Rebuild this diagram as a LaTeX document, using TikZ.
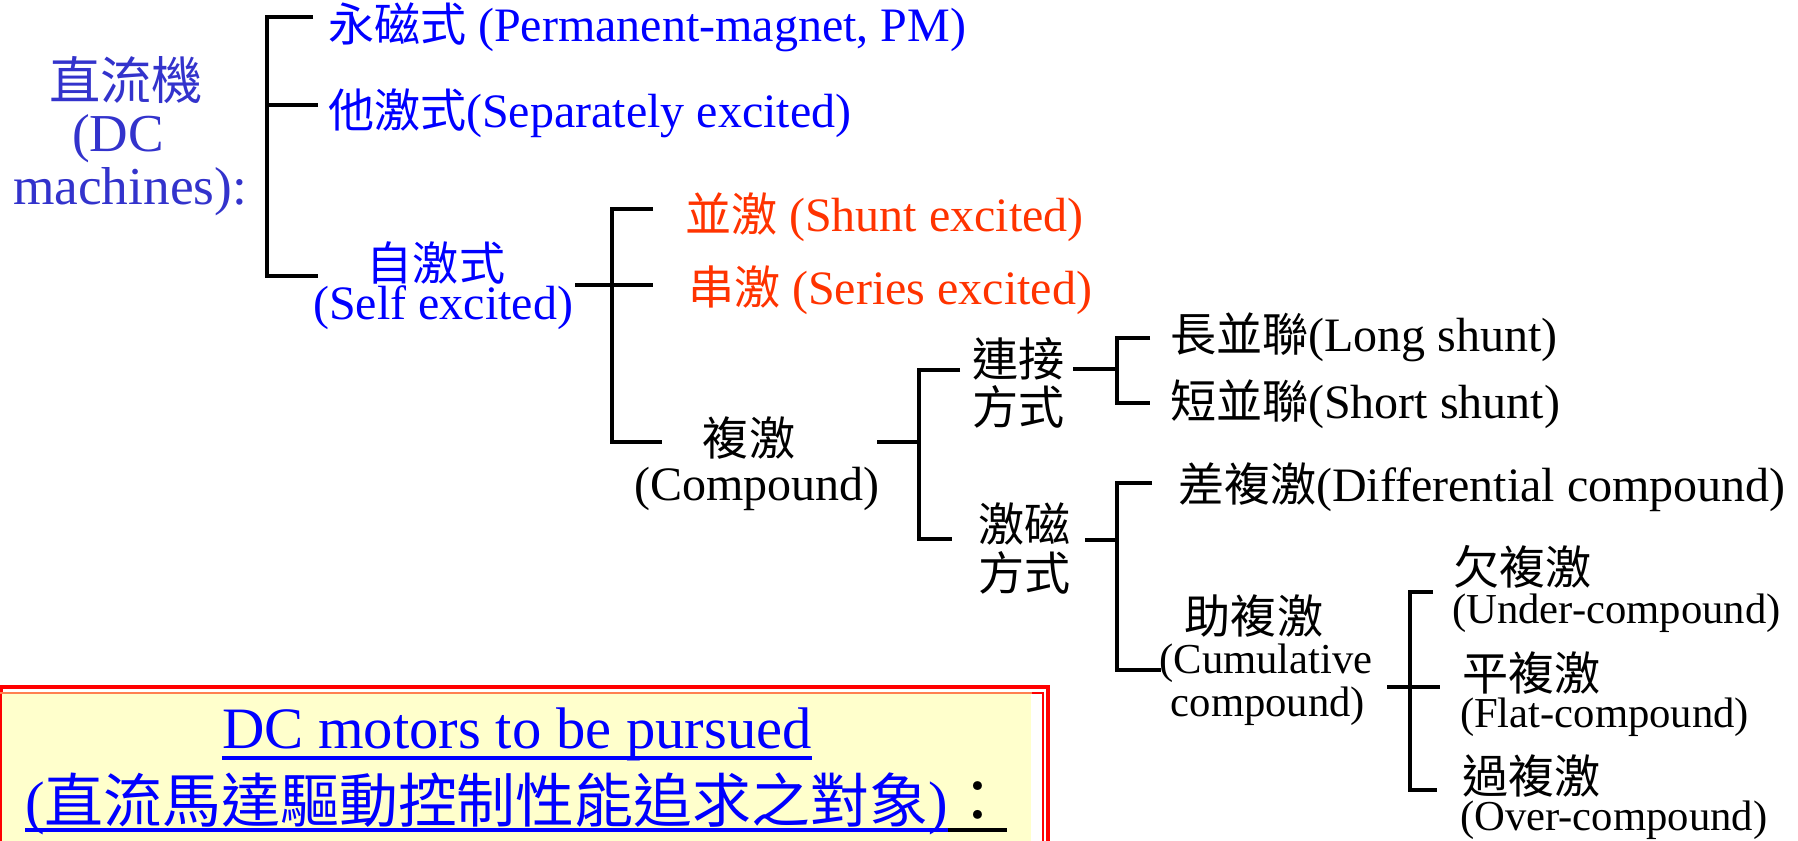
\documentclass[tikz,border=0pt]{standalone}
\usepackage{fontspec}
\setmainfont{Liberation Serif}
\newfontfamily\cjk[Scale=0.96]{Noto Sans CJK TC}
\definecolor{tblue}{RGB}{0,0,255}
\definecolor{lblue}{RGB}{51,51,204}
\definecolor{tred}{RGB}{255,51,0}
\definecolor{bred}{RGB}{255,0,0}
\definecolor{bor}{RGB}{255,128,80}
\definecolor{byel}{RGB}{255,255,204}
\tikzset{
  br/.style={line width=2.3pt, line join=miter},
  tx/.style={inner sep=0pt, outer sep=0pt, anchor=base west, font=\fontsize{36}{40}\selectfont},
  txc/.style={tx, anchor=base},
  sm/.style={font=\fontsize{32}{36}\selectfont},
  lab/.style={inner sep=0pt, anchor=base, text=lblue, font=\fontsize{40}{44}\selectfont},
  big/.style={inner sep=0pt, font=\fontsize{44}{48}\selectfont},
  ul/.style={line width=2.3pt},
}
\begin{document}
\begin{tikzpicture}[x=0.75pt, y=-0.75pt]
\useasboundingbox (0,0) rectangle (1798,841);
% bottom box
\begin{scope}
\clip (0,0) rectangle (1798,841);
\draw[bred, line width=2.3pt] (1,687) rectangle (1048,900);
\draw[bred, line width=2pt] (1,693) rectangle (1043,900);
\fill[byel] (2,693) rectangle (1031,900);
\draw[bor, line width=2pt] (0,693) -- (1032,693);
\end{scope}

% left label
\node[lab] (l1) at (126,100) {\cjk 直流機};
\node[lab] (l2) at (118,152) {(DC};
\node[lab] (l3) at (130,205) {machines):};

% level 1
\node[tx, text=tblue] (pm) at (328,42) {{\cjk 永磁式} (Permanent-magnet, PM)};
\node[tx, text=tblue] (sep) at (328,128) {{\cjk 他激式}(Separately excited)};
\node[txc, text=tblue] (self1) at (436,281) {\cjk 自激式};
\node[txc, text=tblue] (self2) at (443,320) {(Self excited)};

% level 2
\node[tx, text=tred] (shunt) at (685,232) {{\cjk 並激} (Shunt excited)};
\node[tx, text=tred] (series) at (688,305) {{\cjk 串激} (Series excited)};
\node[txc] (cmp1) at (749,455) {\cjk 複激};
\node[txc] (cmp2) at (757,500) {(Compound)};

% level 3
\node[tx] (con1) at (972,377) {\cjk 連接};
\node[tx] (con2) at (972,424) {\cjk 方式};
\node[tx] (exc1) at (978,541) {\cjk 激磁};
\node[tx] (exc2) at (978,590) {\cjk 方式};

% level 4
\node[tx] (long) at (1170,352) {{\cjk 長並聯}(Long shunt)};
\node[tx] (short) at (1170,418) {{\cjk 短並聯}(Short shunt)};
\node[tx] (diff) at (1178,501) {{\cjk 差複激}(Differential compound)};
\node[txc] (cum1) at (1254,633) {\cjk 助複激};
\node[txc, sm] (cum2) at (1266,673) {(Cumulative};
\node[txc, sm] (cum3) at (1268,716) {compound)};

% level 5
\node[tx] (und1) at (1453,584) {\cjk 欠複激};
\node[tx, sm] (und2) at (1452,623) {(Under-compound)};
\node[tx] (flat1) at (1462,690) {\cjk 平複激};
\node[tx, sm] (flat2) at (1460,727) {(Flat-compound)};
\node[tx] (over1) at (1462,793) {\cjk 過複激};
\node[tx, sm] (over2) at (1460,830) {(Over-compound)};

% bottom text
\node[big, anchor=base, text=tblue] (dcm) at (517,748) {DC motors to be pursued};
\draw[ul, tblue] ([yshift=-7.5pt]dcm.base west) -- ([yshift=-7.5pt]dcm.base east);
\node[big, anchor=base west, text=tblue] (zh) at (25,822) {({\cjk\fontsize{46}{48}\selectfont 直流馬達驅動控制性能追求之對象})};
\node[big, anchor=base west] (colon) at (zh.base east) {\cjk\fontsize{46}{48}\selectfont ：};
\draw[ul, tblue] ([yshift=-6pt]zh.base west) -- ([yshift=-6pt]zh.base east);
\draw[ul, black] ([yshift=-6pt]colon.base west) -- ([yshift=-6pt]colon.base east);

% bracket 1
\coordinate (a1) at (313,17);
\coordinate (a2) at (267,17);
\coordinate (a3) at (267,276);
\coordinate (a4) at (318,276);
\coordinate (a5) at (267,105);
\coordinate (a6) at (318,105);
\draw[br] (a1) -- (a2) -- (a3) -- (a4);
\draw[br] (a5) -- (a6);

% bracket 2
\coordinate (b0) at (575,285);
\coordinate (b1) at (653,285);
\coordinate (b2) at (653,209);
\coordinate (b3) at (612,209);
\coordinate (b4) at (612,442);
\coordinate (b5) at (662,442);
\draw[br] (b0) -- (b1);
\draw[br] (b2) -- (b3) -- (b4) -- (b5);

% bracket 3
\coordinate (c0) at (877,442);
\coordinate (c1) at (919,442);
\coordinate (c2) at (960,370);
\coordinate (c3) at (919,370);
\coordinate (c4) at (919,539);
\coordinate (c5) at (952,539);
\draw[br] (c0) -- (c1);
\draw[br] (c2) -- (c3) -- (c4) -- (c5);

% bracket 4
\coordinate (d0) at (1073,369);
\coordinate (d1) at (1117,369);
\coordinate (d2) at (1150,338);
\coordinate (d3) at (1117,338);
\coordinate (d4) at (1117,403);
\coordinate (d5) at (1150,403);
\draw[br] (d0) -- (d1);
\draw[br] (d2) -- (d3) -- (d4) -- (d5);

% bracket 5
\coordinate (e0) at (1085,540);
\coordinate (e1) at (1117,540);
\coordinate (e2) at (1152,483);
\coordinate (e3) at (1117,483);
\coordinate (e4) at (1117,670);
\coordinate (e5) at (1161,670);
\draw[br] (e0) -- (e1);
\draw[br] (e2) -- (e3) -- (e4) -- (e5);

% bracket 6
\coordinate (f0) at (1387,687);
\coordinate (f1) at (1440,687);
\coordinate (f2) at (1433,592);
\coordinate (f3) at (1410,592);
\coordinate (f4) at (1410,790);
\coordinate (f5) at (1437,790);
\draw[br] (f0) -- (f1);
\draw[br] (f2) -- (f3) -- (f4) -- (f5);
\end{tikzpicture}
\end{document}
